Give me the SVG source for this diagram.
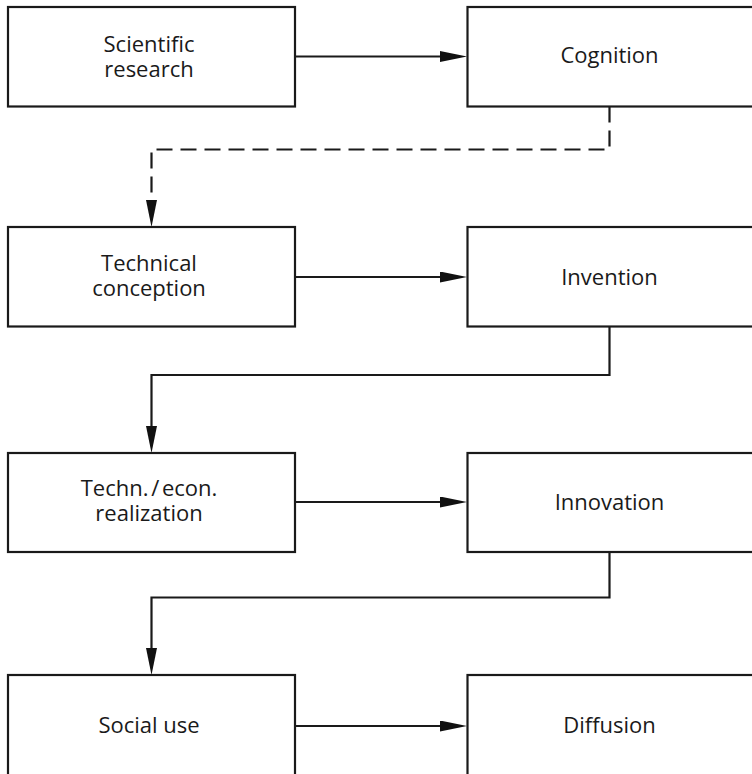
<svg xmlns="http://www.w3.org/2000/svg" width="752" height="774" viewBox="0 0 752 774">
  <defs>
    <style>
      .box { fill: #ffffff; stroke: #1a1a1a; stroke-width: 2.2; }
      .lbl { font-family: "Open Sans", "Noto Sans", "Liberation Sans", sans-serif; font-size: 22px; fill: #1a1a1a; text-anchor: middle; }
      .conn { fill: none; stroke: #1a1a1a; stroke-width: 2.2; }
      .dash { stroke-dasharray: 16 8; }
    </style>
    <marker id="arrow" markerUnits="userSpaceOnUse" markerWidth="28" markerHeight="12" refX="7" refY="5.5" orient="auto">
      <path d="M0,0 L27,5.5 L0,11 Z" fill="#111111"/>
    </marker>
  </defs>
  <rect width="752" height="774" fill="#ffffff"/>

  <!-- row 1 -->
  <g id="scientific-research">
    <rect class="box" x="8" y="7" width="287" height="99.5"/>
    <text class="lbl" x="149" y="52"><tspan x="149">Scientific</tspan><tspan x="149" dy="24.5">research</tspan></text>
  </g>
  <g id="cognition">
    <rect class="box" x="467.5" y="7" width="292" height="99.5"/>
    <text class="lbl" x="609.5" y="62.5">Cognition</text>
  </g>

  <!-- row 2 -->
  <g id="technical-conception">
    <rect class="box" x="8" y="227" width="287" height="99.5"/>
    <text class="lbl" x="149" y="270.5"><tspan x="149">Technical</tspan><tspan x="149" dy="25">conception</tspan></text>
  </g>
  <g id="invention">
    <rect class="box" x="467.5" y="227" width="292" height="99.5"/>
    <text class="lbl" x="609.5" y="284.5">Invention</text>
  </g>

  <!-- row 3 -->
  <g id="techn-econ-realization">
    <rect class="box" x="8" y="453" width="287" height="99"/>
    <text class="lbl" x="149" y="495.5"><tspan x="149" word-spacing="-3">Techn. / econ.</tspan><tspan x="149" dy="25.5">realization</tspan></text>
  </g>
  <g id="innovation">
    <rect class="box" x="467.5" y="453" width="292" height="99"/>
    <text class="lbl" x="609.5" y="509.5">Innovation</text>
  </g>

  <!-- row 4 -->
  <g id="social-use">
    <rect class="box" x="8" y="675" width="287" height="110"/>
    <text class="lbl" x="149" y="733">Social use</text>
  </g>
  <g id="diffusion">
    <rect class="box" x="467.5" y="675" width="292" height="110"/>
    <text class="lbl" x="609.5" y="733">Diffusion</text>
  </g>

  <!-- connectors -->
  <g id="connectors">
    <path class="conn" d="M295,56.5 H447" marker-end="url(#arrow)"/>
    <path class="conn dash" d="M609.5,106.5 V149.5 H151.5 V207" marker-end="url(#arrow)"/>
    <path class="conn" d="M295,277 H447" marker-end="url(#arrow)"/>
    <path class="conn" d="M609.5,326.5 V375 H151.5 V433" marker-end="url(#arrow)"/>
    <path class="conn" d="M295,502 H447" marker-end="url(#arrow)"/>
    <path class="conn" d="M609.5,552 V597.5 H151.5 V655" marker-end="url(#arrow)"/>
    <path class="conn" d="M295,726 H447" marker-end="url(#arrow)"/>
  </g>
</svg>
